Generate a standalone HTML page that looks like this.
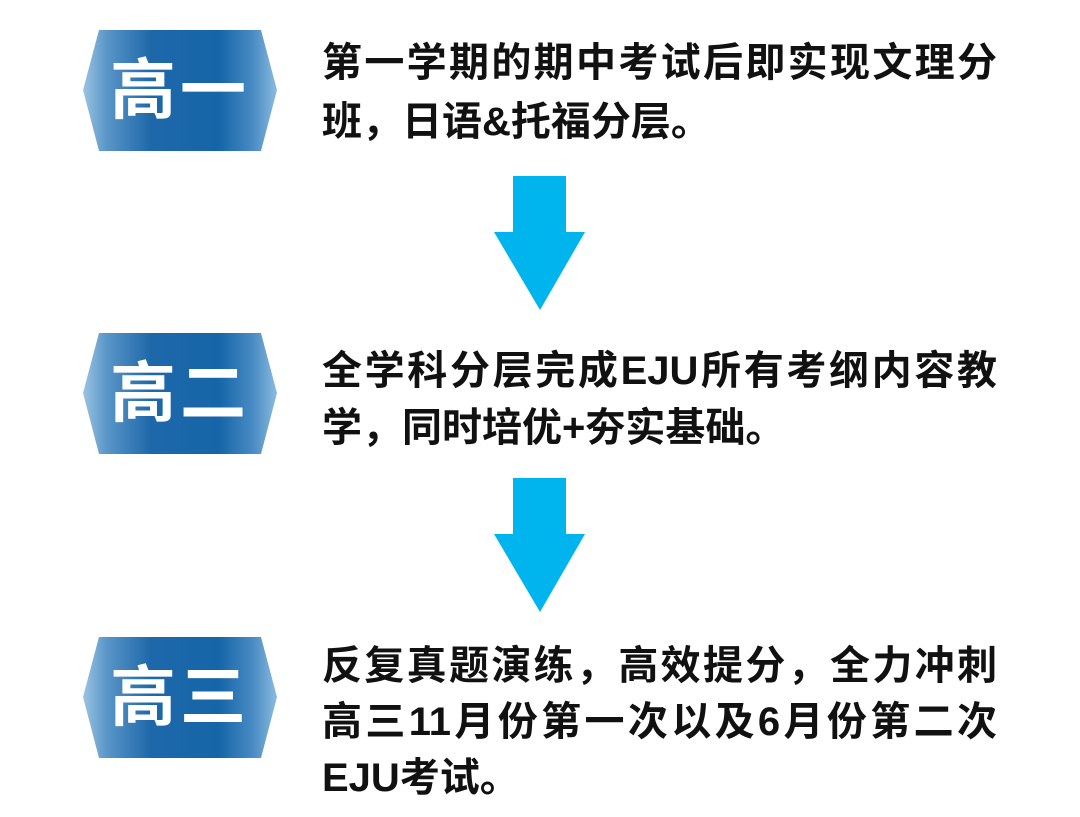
<!DOCTYPE html>
<html><head><meta charset="utf-8"><style>
body{margin:0;width:1080px;height:817px;background:#fff;position:relative;overflow:hidden;font-family:"Liberation Sans","Noto Sans CJK SC",sans-serif}
.b{position:absolute;left:83px;width:194px;height:121px;clip-path:polygon(16px 0,178px 0,194px 60px,178px 121px,16px 121px,0 60px);
background:linear-gradient(90deg,#9cc4e2 0%,#5a96c8 12%,#1e68aa 35%,#1565a8 70%,#4a8cc4 88%,#8cbce0 100%);color:#fff;font-weight:bold;font-size:66px;line-height:121px;text-align:center;letter-spacing:4px}
.l{position:absolute;left:322px;width:675px;font-weight:bold;font-size:40px;line-height:50px;color:#111;white-space:nowrap}
.j{text-align:justify;text-align-last:justify}
.s{letter-spacing:0px}
.ar{position:absolute;left:494px}
</style></head><body>
<div class="b" style="top:30px">高一</div>
<div class="b" style="top:333px">高二</div>
<div class="b" style="top:637px">高三</div>

<div class="l j" style="top:38px">第一学期的期中考试后即实现文理分</div>
<div class="l s" style="top:97px">班，日语&amp;托福分层。</div>

<div class="l j" style="top:346px">全学科分层完成EJU所有考纲内容教</div>
<div class="l s" style="top:403px">学，同时培优+夯实基础。</div>

<div class="l j" style="top:641px">反复真题演练，高效提分，全力冲刺</div>
<div class="l j" style="top:697px">高三11月份第一次以及6月份第二次</div>
<div class="l s" style="top:753px">EJU考试。</div>

<svg class="ar" style="top:176px" width="92" height="136"><polygon points="19,0 72,0 72,56 91,56 46,134 0,56 19,56" fill="#00b4ee"/></svg>
<svg class="ar" style="top:478px" width="92" height="136"><polygon points="19,0 72,0 72,56 91,56 46,134 0,56 19,56" fill="#00b4ee"/></svg>
</body></html>
